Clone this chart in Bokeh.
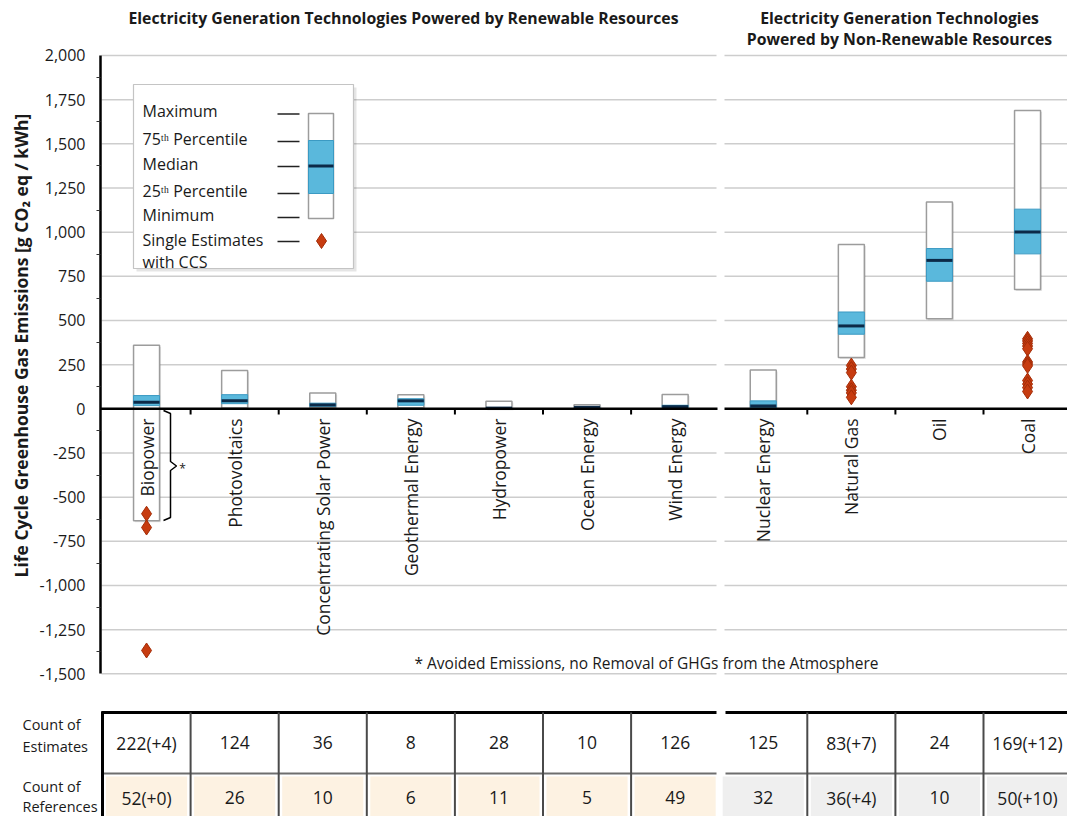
import math
from bokeh.plotting import figure
from bokeh.models import Range1d, FixedTicker, NumeralTickFormatter, Title, ColumnDataSource
from bokeh.core.properties import value
from bokeh.embed import file_html
from bokeh.resources import INLINE

# ---------------- data ----------------
categories = ["Biopower", "Photovoltaics", "Concentrating Solar Power", "Geothermal Energy",
              "Hydropower", "Ocean Energy", "Wind Energy", "Nuclear Energy",
              "Natural Gas", "Oil", "Coal"]
minimum = [-633, 5, 7, 6, 0, 2, 2, 1, 290, 510, 675]
p25 = [18, 29, 14, 20, 3, 6, 8, 8, 422, 722, 877]
median = [37, 46, 22, 45, 4, 8, 12, 16, 469, 840, 1001]
p75 = [75, 80, 32, 57, 7, 9, 20, 45, 548, 907, 1130]
maximum = [360, 217, 89, 79, 43, 23, 81, 220, 930, 1170, 1689]

ccs_category = ["Biopower"] * 3 + ["Natural Gas"] * 7 + ["Coal"] * 12
ccs_values = [-594, -672, -1368,
              245, 225, 205, 125, 105, 90, 65,
              396, 384, 370, 355, 340, 265, 254, 243, 160, 140, 120, 98]

count_estimates = ["222(+4)", "124", "36", "8", "28", "10", "126",
                   "125", "83(+7)", "24", "169(+12)"]
count_references = ["52(+0)", "26", "10", "6", "11", "5", "49",
                    "32", "36(+4)", "10", "50(+10)"]
n_renewable = 7

y_ticks = list(range(-1500, 2001, 250))

# ---------------- layout helpers (reference pixel -> data) ----------------
PX = 88.1      # px per category
X0 = 102.0     # px of category boundary 0
ZERO = 408.3   # px of value 0
PPU = 0.17667  # px per g CO2/kWh


def X(px):
    return (px - X0) / PX


def Y(py):
    return (ZERO - py) / PPU


FONT = "Open Sans"
TXT = "#1a1a1a"
W = 1067
H1 = 708
H2 = 108

centers = [i + 0.5 for i in range(len(categories))]
hw = 13.0 / PX

p = figure(width=W, height=H1, x_range=Range1d(X(100), X(W)),
           y_range=Range1d(Y(H1), Y(0)), output_backend="svg",
           toolbar_location=None, x_axis_location=None,
           min_border_left=100, min_border_right=0, min_border_top=0, min_border_bottom=0)
p.outline_line_color = None
p.xgrid.visible = False
p.ygrid.visible = False
p.background_fill_color = "white"

ax = p.yaxis[0]
ax.ticker = FixedTicker(ticks=y_ticks, minor_ticks=[t + 125 for t in y_ticks[:-1]])
ax.formatter = NumeralTickFormatter(format="0,0")
ax.bounds = (min(y_ticks), max(y_ticks))
ax.axis_line_width = 2.5
ax.axis_line_color = "black"
ax.major_tick_out = 0
ax.major_tick_in = 0
ax.minor_tick_out = 4
ax.minor_tick_in = 0
ax.minor_tick_line_color = "#333333"
ax.major_label_standoff = 11
ax.major_label_text_font = FONT
ax.major_label_text_font_size = "16px"
ax.major_label_text_color = TXT

# y axis title placed in the left side panel
p.add_layout(Title(text="Life Cycle Greenhouse Gas Emissions [g CO₂ eq / kWh]",
                   align="left", offset=131, text_font=FONT, text_font_size="17.5px",
                   text_font_style="bold", text_color=TXT, standoff=8), "left")

# gridlines (two panels)
gl = [t for t in y_ticks if t != 0]
p.segment(x0=[X(101)] * len(gl), x1=[X(716)] * len(gl), y0=gl, y1=gl,
          line_color="#cdcdcd", line_width=1.5)
p.segment(x0=[X(724)] * len(gl), x1=[X(1070)] * len(gl), y0=gl, y1=gl,
          line_color="#cdcdcd", line_width=1.5)

src = ColumnDataSource(dict(
    left=[c - hw for c in centers], right=[c + hw for c in centers],
    x=centers, mn=minimum, q1=p25, med=median, q3=p75, mx=maximum))

# shadow
p.quad(left=[c - hw + 1.5 / PX for c in centers], right=[c + hw + 1.5 / PX for c in centers],
       bottom=[m - 1.5 / PPU for m in minimum], top=[m - 1.5 / PPU for m in maximum],
       fill_color="#000000", fill_alpha=0.10, line_color=None)
p.quad(left="left", right="right", bottom="mn", top="mx", source=src,
       fill_color="white", line_color="#9c9c9c", line_width=1.5)
p.quad(left="left", right="right", bottom="q1", top="q3", source=src,
       fill_color="#5ab8dc", line_color="#3b9ac3", line_width=1)
p.segment(x0="left", x1="right", y0="med", y1="med", source=src,
          line_color="#0c2a48", line_width=3)

# zero line and boundary ticks
p.segment(x0=[X(100), X(724)], x1=[X(717), X(1070)], y0=[0, 0], y1=[0, 0],
          line_color="black", line_width=2.5)
bticks = [k for k in range(1, len(categories)) if k != n_renewable]
p.segment(x0=bticks, x1=bticks, y0=[0] * len(bticks), y1=[Y(414)] * len(bticks),
          line_color="black", line_width=2)

# CCS single estimates
ccs_x = [categories.index(c) + 0.5 for c in ccs_category]
p.scatter(x=ccs_x, y=ccs_values, marker="diamond", size=15,
          fill_color="#c73c10", line_color="#a32c07", line_width=1)

# category labels
p.text(x=centers, y=[Y(418)] * len(centers), text=categories, angle=math.pi / 2,
       text_align="right", text_baseline="middle", text_font=value(FONT),
       text_font_size="17.5px", text_color=TXT)

# brace for biopower
bx = X(170)
p.line(x=[X(163), bx, bx, X(176), bx, bx, X(163)],
       y=[Y(410), Y(413), Y(461), Y(465.5), Y(470), Y(517), Y(520)],
       line_color="black", line_width=1.5)
p.text(x=[X(182)], y=[Y(468)], text=["*"], text_align="center", text_baseline="middle",
       text_font=value(FONT), text_font_size="12px", text_color=TXT)

# footnote
p.text(x=[X(414)], y=[Y(662)], text=["* Avoided Emissions, no Removal of GHGs from the Atmosphere"],
       text_align="left", text_baseline="middle", text_font=value(FONT),
       text_font_size="15.5px", text_color=TXT)

# panel titles
p.text(x=[X(403)], y=[Y(17)], text=["Electricity Generation Technologies Powered by Renewable Resources"],
       text_align="center", text_baseline="middle", text_font=value(FONT),
       text_font_size="15.8px", text_font_style="bold", text_color=TXT)
p.text(x=[X(899), X(899)], y=[Y(17), Y(38)],
       text=["Electricity Generation Technologies", "Powered by Non-Renewable Resources"],
       text_align="center", text_baseline="middle", text_font=value(FONT),
       text_font_size="15.8px", text_font_style="bold", text_color=TXT)

# legend box
p.quad(left=[X(136)], right=[X(356)], top=[Y(87)], bottom=[Y(271)],
       fill_color="#000000", fill_alpha=0.10, line_color=None)
p.quad(left=[X(133)], right=[X(353)], top=[Y(84)], bottom=[Y(268)],
       fill_color="white", line_color="#c4c4c4", line_width=1.2)
leg_text = ["Maximum", "75ᵗʰ Percentile", "Median", "25ᵗʰ Percentile", "Minimum",
            "Single Estimates", "with CCS"]
leg_y = [110, 138, 163, 190, 214, 239, 261]
p.text(x=[X(142)] * len(leg_text), y=[Y(v) for v in leg_y], text=leg_text,
       text_align="left", text_baseline="middle", text_font=value(FONT),
       text_font_size="16px", text_color=TXT)
dash_y = [113.5, 141, 166, 193, 217, 241]
p.segment(x0=[X(277)] * len(dash_y), x1=[X(299)] * len(dash_y),
          y0=[Y(v) for v in dash_y], y1=[Y(v) for v in dash_y],
          line_color="#222222", line_width=1.5)
p.quad(left=[X(308)], right=[X(333)], top=[Y(113)], bottom=[Y(218)],
       fill_color="white", line_color="#9c9c9c", line_width=1.5)
p.quad(left=[X(308)], right=[X(333)], top=[Y(140)], bottom=[Y(193)],
       fill_color="#5ab8dc", line_color="#3b9ac3", line_width=1)
p.segment(x0=[X(308)], x1=[X(333)], y0=[Y(165.5)], y1=[Y(165.5)],
          line_color="#0c2a48", line_width=3)
p.scatter(x=[X(321)], y=[Y(240.5)], marker="diamond", size=15,
          fill_color="#c73c10", line_color="#a32c07", line_width=1)

# ---------------- table (separate root, own full-width frame) ----------------
t = figure(width=W, height=H2, x_range=Range1d(X(0), X(W)), y_range=Range1d(H1 + H2, H1),
           output_backend="svg", toolbar_location=None, x_axis_location=None,
           y_axis_location=None, min_border=0)
t.outline_line_color = None
t.xgrid.visible = False
t.ygrid.visible = False

n = len(categories)
ins = 3.5 / PX
t.quad(left=[k + ins for k in range(n)], right=[k + 1 - ins for k in range(n)],
       top=[776] * n, bottom=[820] * n,
       fill_color=["#fdf2e2"] * n_renewable + ["#efefef"] * (n - n_renewable), line_color=None)
t.segment(x0=[X(101), X(725)], x1=[X(716), X(1070)], y0=[712, 712], y1=[712, 712],
          line_color="black", line_width=3)
t.segment(x0=[X(101), X(725)], x1=[X(716), X(1070)], y0=[773, 773], y1=[773, 773],
          line_color="#6e6e6e", line_width=1.8)
t.segment(x0=[0], x1=[0], y0=[711], y1=[820], line_color="black", line_width=3)
divs = [k for k in range(1, n) if k != n_renewable]
t.segment(x0=divs, x1=divs, y0=[712] * len(divs), y1=[820] * len(divs),
          line_color="#4a4a4a", line_width=2)

t.text(x=centers, y=[742] * n, text=count_estimates, text_align="center", text_baseline="middle",
       text_font=value(FONT), text_font_size="17.5px", text_color=TXT)
t.text(x=centers, y=[797] * n, text=count_references, text_align="center", text_baseline="middle",
       text_font=value(FONT), text_font_size="17.5px", text_color=TXT)
t.text(x=[X(22)] * 4, y=[724, 746, 786, 806],
       text=["Count of", "Estimates", "Count of", "References"],
       text_align="left", text_baseline="middle", text_font=value(FONT),
       text_font_size="14.5px", text_color=TXT)

open("out.html", "w").write(file_html([p, t], INLINE))
